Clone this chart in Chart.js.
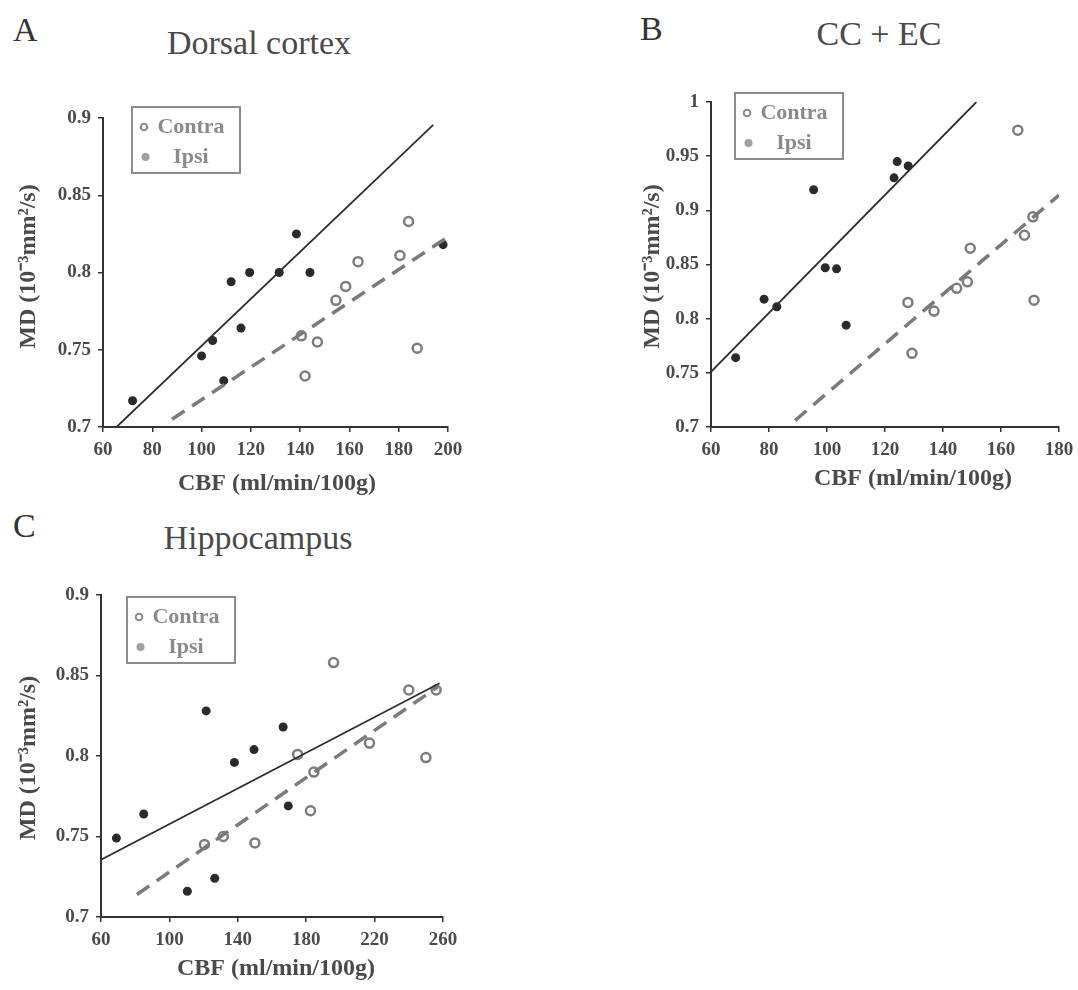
<!DOCTYPE html>
<html>
<head>
<meta charset="utf-8">
<script src="https://cdn.jsdelivr.net/npm/chart.js@4.4.1/dist/chart.umd.min.js"></script>
<style>
  body { margin: 0; width: 1078px; height: 990px; position: relative; overflow: hidden; background: #fff;
         font-family: "Liberation Serif", "Times New Roman", serif; }
  canvas { position: absolute; }
  .tag, .head { position: absolute; font-size: 34px; line-height: 34px; white-space: nowrap; }
  .tag { color: #333; }
  .head { color: #4a4a4a; width: 300px; text-align: center; }
</style>
</head>
<body>
<div class="tag" style="left:13px; top:13px">A</div>
<div class="head" style="left:109px; top:26px">Dorsal cortex</div>
<div class="tag" style="left:640px; top:12px">B</div>
<div class="head" style="left:729px; top:17px">CC + EC</div>
<div class="tag" style="left:13px; top:509px">C</div>
<div class="head" style="left:108px; top:521px">Hippocampus</div>

<canvas id="chartA" width="540" height="500" style="left:0; top:0"></canvas>
<canvas id="chartB" width="538" height="500" style="left:540px; top:0"></canvas>
<canvas id="chartC" width="540" height="510" style="left:0; top:480px"></canvas>

<script>
// Dorsal cortex
const aIpsiCbf = [72, 100, 104.5, 109, 112, 116, 119.5, 131.5, 138.5, 144, 198];
const aIpsiMd = [0.717, 0.746, 0.756, 0.730, 0.794, 0.764, 0.800, 0.800, 0.825, 0.800, 0.818];
const aContraCbf = [140.5, 142, 147, 154.5, 158.5, 163.5, 180.5, 184, 187.5];
const aContraMd = [0.759, 0.733, 0.755, 0.782, 0.791, 0.807, 0.811, 0.833, 0.751];
const aIpsiFitCbf = [65.5, 194];
const aIpsiFitMd = [0.7, 0.8955];
const aContraFitCbf = [88, 200];
const aContraFitMd = [0.705, 0.823];
const aXTicks = [60, 80, 100, 120, 140, 160, 180, 200];
const aYTicks = [0.7, 0.75, 0.8, 0.85, 0.9];

// CC + EC
const bIpsiCbf = [68.5, 78.3, 82.7, 95.4, 99.4, 103.3, 106.6, 123.1, 124.2, 128];
const bIpsiMd = [0.764, 0.818, 0.811, 0.919, 0.847, 0.846, 0.794, 0.930, 0.945, 0.941];
const bContraCbf = [127.9, 129.3, 136.9, 144.7, 148.4, 149.4, 165.8, 168.1, 171, 171.4];
const bContraMd = [0.815, 0.768, 0.807, 0.828, 0.834, 0.865, 0.974, 0.877, 0.894, 0.817];
const bIpsiFitCbf = [60, 151.5];
const bIpsiFitMd = [0.751, 1.0];
const bContraFitCbf = [89, 180];
const bContraFitMd = [0.706, 0.914];
const bXTicks = [60, 80, 100, 120, 140, 160, 180];
const bYTicks = [0.7, 0.75, 0.8, 0.85, 0.9, 0.95, 1];

// Hippocampus
const cIpsiCbf = [69, 85, 110.5, 121.5, 126.5, 138, 149.5, 166.5, 169.5];
const cIpsiMd = [0.749, 0.764, 0.716, 0.828, 0.724, 0.796, 0.804, 0.818, 0.769];
const cContraCbf = [120.5, 131.5, 150, 175, 184.5, 182.5, 196, 217, 240, 250, 256];
const cContraMd = [0.745, 0.750, 0.746, 0.801, 0.790, 0.766, 0.858, 0.808, 0.841, 0.799, 0.841];
const cIpsiFitCbf = [60, 258];
const cIpsiFitMd = [0.7356, 0.8452];
const cContraFitCbf = [81, 257];
const cContraFitMd = [0.714, 0.843];
const cXTicks = [60, 100, 140, 180, 220, 260];
const cYTicks = [0.7, 0.75, 0.8, 0.85, 0.9];

const FONT = "'Liberation Serif', 'Times New Roman', serif";
const INK = "#333333";
const TEXT = "#4a4a4a";
const GREY = "#808080";

const pts = (xs, ys) => xs.map((x, i) => ({ x: x, y: ys[i] }));

// boxed legend sitting inside the top-left of the plot
const boxLegend = {
  id: "boxLegend",
  afterDraw(chart, args, opts) {
    const { ctx, chartArea } = chart;
    const x = chartArea.left + opts.dx;
    const y = chartArea.top + opts.dy;
    ctx.save();
    ctx.strokeStyle = "#8c8c8c";
    ctx.lineWidth = 2;
    ctx.strokeRect(x, y, 108, 66);
    ctx.font = "bold 22px " + FONT;
    ctx.textBaseline = "middle";
    ctx.textAlign = "center";
    const items = chart.data.datasets.filter((d) => d.marker);
    items.forEach((d, i) => {
      const cy = y + 20 + i * 30;
      const mx = x + 12 + i * 1.5;
      ctx.beginPath();
      ctx.arc(mx, cy, d.marker === "ring" ? 3.3 : 4, 0, Math.PI * 2);
      if (d.marker === "ring") {
        ctx.strokeStyle = "#8a8a8a";
        ctx.lineWidth = 2;
        ctx.stroke();
      } else {
        ctx.fillStyle = "#a0a0a0";
        ctx.fill();
      }
      ctx.fillStyle = "#8a8a8a";
      ctx.fillText(d.label, x + 59, cy);
    });
    ctx.restore();
  },
};

// axis titles, placed relative to the plot area
const axisText = {
  id: "axisText",
  afterDraw(chart, args, opts) {
    const { ctx, chartArea: a } = chart;
    ctx.save();
    ctx.fillStyle = TEXT;
    ctx.font = "bold 24px " + FONT;
    ctx.textAlign = "center";
    ctx.textBaseline = "middle";
    ctx.fillText(opts.xTitle, (a.left + a.right) / 2 + opts.xdx, a.bottom + opts.xdy);
    ctx.translate(a.left + opts.ydx, (a.top + a.bottom) / 2 + opts.ydy);
    ctx.rotate(-Math.PI / 2);
    ctx.fillText(opts.yTitle, 0, 0);
    ctx.restore();
  },
};

const axisStyle = (ticks, size, horizontal) => ({
  type: "linear",
  min: ticks[0],
  max: ticks[ticks.length - 1],
  afterBuildTicks: (s) => { s.ticks = ticks.map((v) => ({ value: v })); },
  afterFit: (s) => {
    if (horizontal) { s.height = size; s.paddingLeft = 0; s.paddingRight = 0; }
    else { s.width = size; }
  },
  grid: { drawOnChartArea: false, drawTicks: true, tickLength: 5, color: INK, lineWidth: 1.5 },
  border: { color: INK, width: 2 },
  ticks: {
    color: TEXT,
    padding: horizontal ? 7 : 7,
    maxRotation: 0,
    autoSkip: false,
    font: { family: FONT, size: 19, weight: "bold" },
    callback: (v) => String(v),
  },
});

function drawPanel(id, p) {
  return new Chart(document.getElementById(id), {
    type: "scatter",
    data: {
      datasets: [
        { label: "Ipsi fit", data: pts(p.ipsiFitX, p.ipsiFitY), showLine: true,
          borderColor: "#2e2e2e", borderWidth: 1.8, pointRadius: 0 },
        { label: "Contra fit", data: pts(p.contraFitX, p.contraFitY), showLine: true,
          borderColor: "#7a7a7a", borderWidth: 3.5, borderDash: [15, 9], pointRadius: 0 },
        { label: "Contra", marker: "ring", data: pts(p.contraX, p.contraY),
          pointRadius: 4.5, backgroundColor: "rgba(255,255,255,0)", borderColor: "#7d7d7d", borderWidth: 2.5 },
        { label: "Ipsi", marker: "dot", data: pts(p.ipsiX, p.ipsiY),
          pointRadius: 4.5, backgroundColor: "#2a2a2a", borderColor: "#2a2a2a", borderWidth: 0 },
      ],
    },
    options: {
      responsive: false,
      animation: false,
      events: [],
      layout: { padding: p.padding },
      scales: {
        x: axisStyle(p.xTicks, p.xHeight, true),
        y: axisStyle(p.yTicks, p.yWidth, false),
      },
      plugins: {
        legend: { display: false },
        tooltip: { enabled: false },
        boxLegend: p.legend,
        axisText: Object.assign({ xTitle: "CBF (ml/min/100g)", yTitle: "MD (10\u207B\u00B3mm\u00B2/s)" }, p.titles),
      },
    },
    plugins: [boxLegend, axisText],
  });
}

drawPanel("chartA", {
  ipsiX: aIpsiCbf, ipsiY: aIpsiMd, contraX: aContraCbf, contraY: aContraMd,
  ipsiFitX: aIpsiFitCbf, ipsiFitY: aIpsiFitMd, contraFitX: aContraFitCbf, contraFitY: aContraFitMd,
  xTicks: aXTicks, yTicks: aYTicks,
  padding: { left: 0, top: 118, right: 92, bottom: 0 }, yWidth: 103, xHeight: 73,
  legend: { dx: 29, dy: -11 },
  titles: { xdx: 1.5, xdy: 57, ydx: -74.5, ydy: -6 },
});

drawPanel("chartB", {
  ipsiX: bIpsiCbf, ipsiY: bIpsiMd, contraX: bContraCbf, contraY: bContraMd,
  ipsiFitX: bIpsiFitCbf, ipsiFitY: bIpsiFitMd, contraFitX: bContraFitCbf, contraFitY: bContraFitMd,
  xTicks: bXTicks, yTicks: bYTicks,
  padding: { left: 0, top: 102, right: 19, bottom: 0 }, yWidth: 171, xHeight: 73,
  legend: { dx: 24, dy: -9 },
  titles: { xdx: 28, xdy: 52, ydx: -58.5, ydy: 2 },
});

drawPanel("chartC", {
  ipsiX: cIpsiCbf, ipsiY: cIpsiMd, contraX: cContraCbf, contraY: cContraMd,
  ipsiFitX: cIpsiFitCbf, ipsiFitY: cIpsiFitMd, contraFitX: cContraFitCbf, contraFitY: cContraFitMd,
  xTicks: cXTicks, yTicks: cYTicks,
  padding: { left: 0, top: 115, right: 97, bottom: 0 }, yWidth: 101, xHeight: 73,
  legend: { dx: 26, dy: 2 },
  titles: { xdx: 4, xdy: 52, ydx: -72, ydy: 2 },
});
</script>
</body>
</html>
